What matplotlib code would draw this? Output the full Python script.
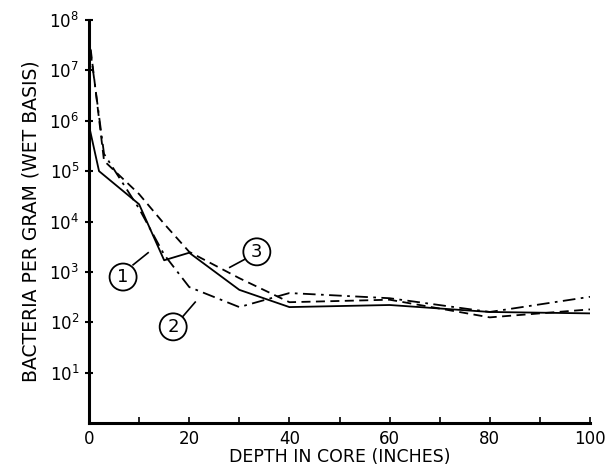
import matplotlib
matplotlib.use("Agg")
import matplotlib.pyplot as plt
import numpy as np

# Data
depth1 = [0, 2, 10, 15, 20, 30, 40, 60, 80, 100]
bact1 = [8e5, 1e5, 2.2e4, 1.7e3, 2.4e3, 440, 200, 220, 160, 150]

depth2 = [0, 3, 10, 15, 20, 30, 40, 60, 80, 100]
bact2 = [4e7, 2.2e5, 1.8e4, 2.2e3, 500, 200, 380, 300, 160, 320]

depth3 = [0, 3, 10, 15, 20, 30, 40, 60, 80, 100]
bact3 = [5e7, 1.6e5, 3.5e4, 9e3, 2.5e3, 750, 250, 280, 125, 180]

curve_labels = ["1", "2", "3"]
label_pos = [(6.8, 790), (16.8, 81), (33.5, 2500)]
leader_start = [(8.8, 10**3.14), (18.6, 10**2.1), (31.1, 10**3.25)]
leader_end = [(11.8, 10**3.38), (21.2, 10**2.4), (28.1, 10**3.09)]

xticks = [0, 20, 40, 60, 80, 100]
yticks = [10**k for k in range(1, 9)]
ytick_labels = [r"$\mathregular{10^{%d}}$" % k for k in range(1, 9)]

fig = plt.figure(figsize=(6.08, 4.66), dpi=100)
ax = fig.add_axes([0.1464, 0.0923, 0.824, 0.8647])

ax.plot(depth1, bact1, color="black", lw=1.3, ls="-")
ax.plot(depth2, bact2, color="black", lw=1.3, ls=(0, (7, 3, 1.5, 3)))
ax.plot(depth3, bact3, color="black", lw=1.3, ls=(0, (5, 3)))

ax.set_yscale("log")
ax.set_xlim(0, 100)
ax.set_ylim(1, 1e8)

for s in ["top", "right"]:
    ax.spines[s].set_visible(False)
for s in ["left", "bottom"]:
    ax.spines[s].set_linewidth(2.2)

ax.set_xticks(xticks)
ax.set_xticks(range(0, 101, 10), minor=True)
ax.set_yticks(yticks)
ax.set_yticklabels(ytick_labels)
ax.yaxis.set_minor_locator(matplotlib.ticker.NullLocator())
ax.tick_params(axis="y", which="major", direction="inout", length=6, width=1.5, labelsize=12, pad=4)
ax.tick_params(axis="x", which="both", direction="in", length=4, width=1.2, labelsize=12, pad=5)

ax.set_xlabel("DEPTH IN CORE (INCHES)", fontsize=12.5, labelpad=0)
ax.set_ylabel("BACTERIA PER GRAM (WET BASIS)", fontsize=13.5, labelpad=6)

for lab, pos, s, e in zip(curve_labels, label_pos, leader_start, leader_end):
    ax.text(pos[0], pos[1], lab, ha="center", va="center", fontsize=13,
            bbox=dict(boxstyle="circle,pad=0.25", fc="white", ec="black", lw=1.3))
    ax.plot([s[0], e[0]], [s[1], e[1]], color="black", lw=1.2)

fig.savefig("out.png", dpi=100)
